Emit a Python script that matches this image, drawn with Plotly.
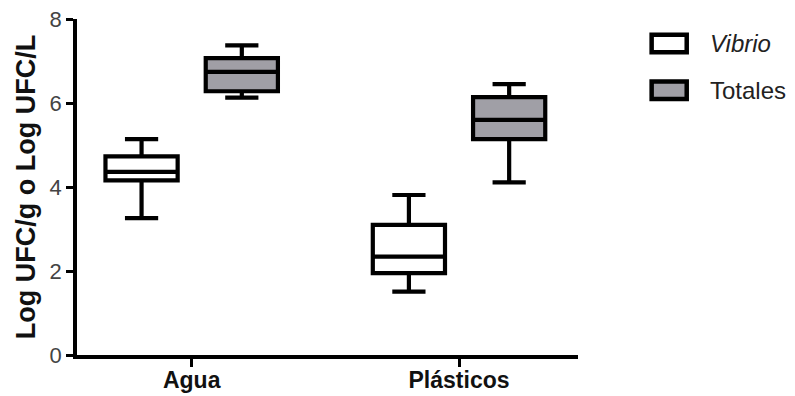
import plotly.graph_objects as go

# Five-number summaries per sample type
categories = ["Agua", "Plásticos"]

vibrio_lower = [3.26, 1.51]
vibrio_q1 = [4.16, 1.95]
vibrio_median = [4.36, 2.34]
vibrio_q3 = [4.73, 3.10]
vibrio_upper = [5.14, 3.81]

totales_lower = [6.13, 4.11]
totales_q1 = [6.28, 5.14]
totales_median = [6.74, 5.60]
totales_q3 = [7.07, 6.14]
totales_upper = [7.37, 6.45]

y_ticks = [0, 2, 4, 6, 8]

FONT = "Arial, Liberation Sans, sans-serif"
LINE_W = 4.2
GREY = "#a09fa6"

fig = go.Figure()

fig.add_trace(go.Box(
    name="Vibrio", x=categories,
    q1=vibrio_q1, median=vibrio_median, q3=vibrio_q3,
    lowerfence=vibrio_lower, upperfence=vibrio_upper,
    fillcolor="white", line=dict(color="black", width=LINE_W),
    whiskerwidth=0.46, boxpoints=False, showlegend=False,
))
fig.add_trace(go.Box(
    name="Totales", x=categories,
    q1=totales_q1, median=totales_median, q3=totales_q3,
    lowerfence=totales_lower, upperfence=totales_upper,
    fillcolor=GREY, line=dict(color="black", width=LINE_W),
    whiskerwidth=0.46, boxpoints=False, showlegend=False,
))

# Legend drawn as outlined swatches with labels
legend_items = [("<i>Vibrio</i>", "white", 0.927), ("Totales", GREY, 0.788)]
for label, fill, yc in legend_items:
    fig.add_shape(type="rect", xref="paper", yref="paper",
                  x0=1.147, x1=1.217, y0=yc - 0.026, y1=yc + 0.026,
                  fillcolor=fill, line=dict(color="black", width=4.5))
    fig.add_annotation(x=1.259, y=yc, xref="paper", yref="paper",
                       text=label, showarrow=False, xanchor="left", yanchor="middle",
                       font=dict(family=FONT, size=24, color="#222"))

fig.update_layout(
    width=795, height=396,
    margin=dict(l=77, r=217, t=19, b=41),
    paper_bgcolor="white", plot_bgcolor="white",
    boxmode="group", boxgap=0.25, boxgroupgap=0.28,
    font=dict(family=FONT, color="#333"),
)
fig.update_xaxes(
    type="category", range=[-0.429, 1.445], automargin=False,
    showline=True, linecolor="black", linewidth=3.5,
    ticks="outside", ticklen=8, tickwidth=3, tickcolor="black",
    ticklabelstandoff=-6,
    tickfont=dict(family=FONT, size=23, color="#111", weight="bold"),
    showgrid=False, zeroline=False,
)
fig.update_yaxes(
    range=[0, 8], tickvals=y_ticks, automargin=False,
    showline=True, linecolor="black", linewidth=3.5,
    ticks="outside", ticklen=7, tickwidth=3, tickcolor="black",
    tickfont=dict(family=FONT, size=22, color="#444"),
    title=dict(text="<b>Log UFC/g o Log UFC/L</b>", standoff=7,
               font=dict(family=FONT, size=27, color="#111")),
    showgrid=False, zeroline=False,
)

fig.write_html("out.html")
